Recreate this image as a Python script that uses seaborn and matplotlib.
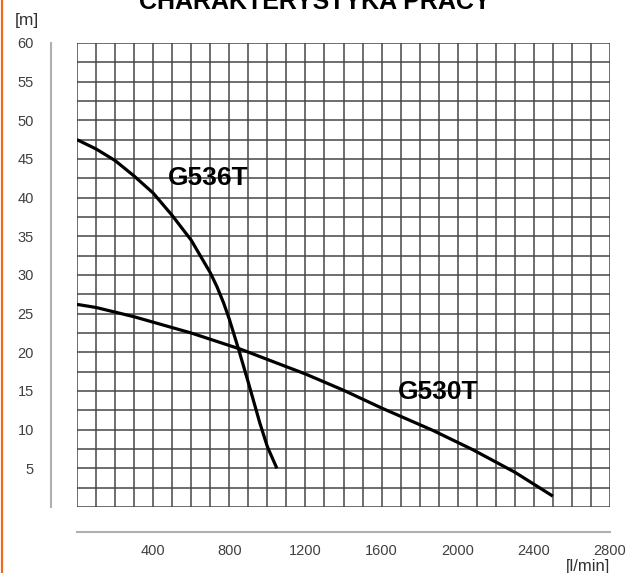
import matplotlib
matplotlib.use('Agg')
import matplotlib.pyplot as plt
from matplotlib.ticker import MultipleLocator
from matplotlib.lines import Line2D
import seaborn as sns
import pandas as pd

# pump curves: flow [l/min] vs head [m]
g536_flow = [0, 100, 200, 300, 400, 500, 600, 650, 700, 735, 770, 800, 830, 850, 900, 960, 1000, 1050]
g536_head = [47.5, 46.3, 44.8, 42.8, 40.6, 37.7, 34.5, 32.4, 30.3, 28.5, 26.4, 24.3, 21.9, 20.3, 16.1, 10.9, 7.8, 5.0]

g530_flow = [0, 100, 300, 600, 860, 1200, 1400, 1600, 1870, 2080, 2300, 2500]
g530_head = [26.2, 25.8, 24.6, 22.5, 20.4, 17.2, 15.1, 12.8, 9.9, 7.4, 4.5, 1.4]

x_ticks = [400, 800, 1200, 1600, 2000, 2400, 2800]
y_ticks = [5, 10, 15, 20, 25, 30, 35, 40, 45, 50, 55, 60]

df = pd.concat([
    pd.DataFrame({'flow': g536_flow, 'head': g536_head, 'model': 'G536T'}),
    pd.DataFrame({'flow': g530_flow, 'head': g530_head, 'model': 'G530T'}),
])

sns.set_style('white')
plt.rcParams['font.family'] = ['Liberation Sans', 'DejaVu Sans']

W, H = 636, 573
fig = plt.figure(figsize=(W / 100, H / 100), dpi=100)
ax = fig.add_axes([77 / W, (H - 507) / H, 533 / W, 464 / H])

sns.lineplot(data=df, x='flow', y='head', hue='model', palette=['black', 'black'],
             linewidth=2.3, legend=False, sort=False, ax=ax)
for ln in ax.lines:
    ln.set_solid_joinstyle('round')
    ln.set_solid_capstyle('butt')

ax.set_xlim(0, 2800)
ax.set_ylim(0, 60)
ax.set_xticks(x_ticks)
ax.set_yticks(y_ticks)
ax.xaxis.set_minor_locator(MultipleLocator(100))
ax.yaxis.set_minor_locator(MultipleLocator(2.5))
ax.grid(which='both', color='#474747', linewidth=1.1)
ax.set_axisbelow(True)
ax.tick_params(which='minor', length=0)
ax.tick_params(axis='y', which='major', length=11, width=1.2, color='#b0b0b0',
               labelsize=10.5, labelcolor='#404040', pad=1)
ax.tick_params(axis='x', which='major', length=7, width=1.2, color='#b0b0b0',
               labelsize=10.5, labelcolor='#404040', pad=1.5)

for side in ['top', 'right']:
    ax.spines[side].set_visible(False)
ax.spines['left'].set_position(('outward', 19))
ax.spines['bottom'].set_position(('outward', 18))
for side in ['left', 'bottom']:
    ax.spines[side].set_color('#b0b0b0')
    ax.spines[side].set_linewidth(1.5)

ax.set_xlabel('')
ax.set_ylabel('')

ax.text(690, 42.5, 'G536T', fontsize=19, fontweight='bold', color='black', ha='center', va='center')
ax.text(1895, 14.9, 'G530T', fontsize=19, fontweight='bold', color='black', ha='center', va='center')

fig.text(27 / W, 1 - 20 / H, '[m]', fontsize=12.5, color='#303030', ha='center', va='center')
fig.text(610 / W, 1 - 566 / H, '[l/min]', fontsize=12, color='#303030', ha='right', va='center')
fig.text(315 / W, 1 - 9 / H, 'CHARAKTERYSTYKA PRACY', fontsize=18, fontweight='bold',
         color='black', ha='center', va='baseline')

fig.add_artist(Line2D([1.5 / W, 1.5 / W], [0, 1], color='#f26a1b', linewidth=1.6))

fig.savefig('out.png', dpi=100)
